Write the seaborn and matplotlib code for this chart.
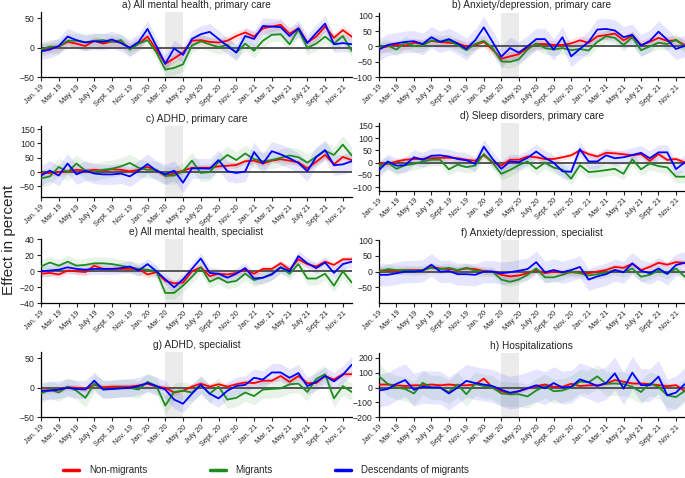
import numpy as np
import pandas as pd
import matplotlib
matplotlib.use("Agg")
import matplotlib.pyplot as plt
import seaborn as sns
from matplotlib.lines import Line2D

# ---------------- data ----------------
month_idx = list(range(36))  # Jan 2019 .. Dec 2021
tick_labels = ["Jan. 19", "Mar. 19", "May 19", "July 19", "Sept. 19", "Nov. 19",
               "Jan. 20", "Mar. 20", "May 20", "July 20", "Sept. 20", "Nov. 20",
               "Jan. 21", "Mar. 21", "May 21", "July 21", "Sept. 21", "Nov. 21"]
groups = ["Non-migrants", "Migrants", "Descendants of migrants"]

a_non = [-3, 0, 2, 10, 7, 3, 12, 7, 11, 9, 0, 7, 19, -3, -27, -18, -8, 12, 13, 10, 9, 12, 20, 26, 19, 33, 36, 39, 24, 33, 9, 19, 36, 17, 30, 19]
a_mig = [-3, 2, 2, 12, 12, 9, 12, 13, 10, 13, -3, 7, 13, -8, -37, -34, -28, 4, 11, 6, 1, 5, -8, 7, -5, 12, 22, 23, 6, 31, 0, 7, 19, 7, 20, -5]
a_desc = [-6, -3, 3, 19, 13, 9, 11, 10, 14, 8, 0, 10, 32, 3, -27, -1, -12, 15, 23, 27, 15, 3, -8, 20, 15, 37, 36, 35, 20, 33, 8, 25, 41, 6, 8, 6]

b_non = [-5, 0, 5, 3, 12, 8, 18, 14, 12, 10, 0, 5, 15, -10, -40, -32, -25, -5, 8, 8, 5, 5, 10, 20, 12, 33, 37, 42, 20, 35, 5, 15, 28, 18, 20, 5]
b_mig = [-3, 3, -10, 13, 2, 3, 20, 16, 18, 5, -12, 8, 18, -5, -48, -50, -42, -10, 10, -5, -10, -5, -12, -8, -13, 15, 33, 28, 5, 30, -12, 0, 12, 8, 22, 0]
b_desc = [-10, 5, 10, 15, 17, 8, 30, 15, 24, 10, -8, 20, 62, 15, -33, -5, -20, 0, 24, 24, -10, 30, -32, -8, 15, 55, 57, 52, 30, 38, 3, 18, 48, 22, -8, 2]

c_non = [-3, -3, 0, 3, 8, 5, 8, 5, 10, 8, 3, 8, 18, 5, -13, -5, 5, 15, 15, 15, 20, 22, 25, 38, 40, 30, 40, 45, 40, 34, 13, 36, 60, 27, 53, 42]
c_mig = [-22, -15, 18, 0, 30, 5, 0, 8, 12, 20, 32, 15, 8, 8, -13, -12, 3, 40, -3, 0, 35, 60, 42, 65, 45, 38, 42, 50, 58, 52, 33, 53, 74, 60, 96, 58]
c_desc = [-12, 5, -12, 30, -8, 5, -5, -8, -8, -5, -15, 5, 28, 5, -8, 5, -37, 13, 13, 12, 42, 3, -3, 2, 70, 30, 73, 62, 48, 32, 3, 53, 77, 24, 27, 38]

d_non = [-5, -5, 5, 12, 15, 15, 18, 20, 20, 18, 12, 8, 30, 2, -12, 12, 12, 25, 22, 15, 15, 22, 30, 50, 35, 25, 40, 38, 34, 30, 35, 7, 35, 11, 15, 1]
d_mig = [-15, 0, -25, -10, -5, 5, 12, 12, -27, -8, -18, -12, 35, 0, -45, -30, -10, 5, -25, 0, -20, -28, -65, -10, -38, -35, -30, -25, -45, 14, -27, -3, -14, -19, -57, -57]
d_desc = [-30, 5, -12, -10, 22, 12, 28, 30, 25, 15, 10, -5, 65, 15, -25, 5, 2, 20, 45, 20, 0, -35, -37, 55, 5, 5, 30, 18, 22, 31, 40, 18, 42, 42, -26, 1]

e_non = [-3, -2, -4, 1, 0, -1, 7, 3, 3, 3, 3, 3, -4, -1, -12, -15, -14, 0, 5, -6, -3, -4, -2, 2, -3, 3, 3, 10, 2, 15, 9, 6, 12, 8, 15, 15]
e_mig = [6, 11, 7, 12, 7, 8, 10, 10, 9, 7, 5, 3, 2, 0, -27, -27, -18, -7, 5, -13, -8, -14, -12, -3, -11, -8, -3, 5, -3, 9, -9, -9, -3, -18, 0, -14]
e_desc = [0, 1, 2, 5, 3, 2, 3, 3, 3, 4, 6, 1, 9, 0, -10, -20, -10, 3, 16, -2, -3, -8, -3, 4, -9, -8, -4, 5, 0, 19, 10, 4, 11, -2, 9, 12]

f_non = [3, 5, 2, 5, 5, 5, 15, 10, 8, 5, 10, 8, 2, 0, -10, -15, -12, -5, 5, -5, 0, -3, -2, -3, -5, 0, 5, 15, 12, 25, 5, 15, 28, 22, 30, 28]
f_mig = [0, 8, 5, 5, 3, 5, 12, 8, 12, 5, 12, 3, 0, 0, -25, -32, -25, -10, 10, -18, -18, -10, 0, -5, -12, -8, -3, 5, -2, 10, -16, -10, 3, -7, 10, -16]
f_desc = [-10, -10, -5, 0, 0, 3, 22, 0, 2, -8, -8, -10, 0, 0, -5, -2, 3, 8, 30, -2, 5, -2, 5, 15, -25, -15, -8, 5, -2, 26, 3, -5, 10, -7, 21, 28]

g_non = [-5, -4, -3, 1, 0, -2, 5, 1, 2, 2, 2, 4, 7, 2, 0, -8, -5, 2, 7, 2, 6, 2, 6, 9, 8, 12, 12, 20, 10, 20, 8, 8, 20, 14, 23, 23]
g_mig = [-10, -3, -8, 2, -5, -17, 7, -2, -2, 0, 0, -3, 10, 3, -30, -7, -5, -8, 5, -10, 2, -20, -17, -8, -14, -3, -2, -1, 6, 7, -7, 15, 23, -18, 3, -7]
g_desc = [-5, -5, -3, 0, -2, -3, 12, -3, -2, -1, 0, 3, 8, 3, -3, -20, -27, -10, 5, -10, -18, -5, 3, 5, 17, 14, 26, 26, 17, 25, 3, 10, 20, 11, 22, 39]

h_non = [20, 20, 15, 10, 15, 15, 20, 15, 20, 15, 15, 20, 60, 0, -25, -40, -25, -5, 10, 20, 5, 5, 25, 10, 15, 15, 25, 50, 39, 27, 27, 23, 16, 9, 16, -23]
h_mig = [75, 25, 0, -10, -40, 32, 0, 0, -30, 20, -45, 25, 10, 0, -40, -45, -45, -60, -20, 10, -25, -20, 0, 40, 35, 75, 25, 27, 23, 5, -30, 27, 5, -52, -64, -23]
h_desc = [-20, -10, 25, 50, -15, 5, 0, 0, -40, 0, 45, 30, 20, 10, -15, -35, -25, -5, 15, -5, 30, 0, 5, 55, 35, 10, 30, 95, -7, 100, 16, 16, 73, -52, -34, 23]

# approximate half-widths of the confidence bands (non, mig, desc)
ci_a = [8, 12, 14]
ci_b = [15, 20, 35]
ci_c = [10, 30, 35]
ci_d = [12, 25, 30]
ci_e = [4, 8, 7]
ci_f = [10, 15, 35]
ci_g = [5, 15, 15]
ci_h = [15, 80, 110]

titles = ["a) All mental health, primary care", "b) Anxiety/depression, primary care",
          "c) ADHD, primary care", "d) Sleep disorders, primary care",
          "e) All mental health, specialist", "f) Anxiety/depression, specialist",
          "g) ADHD, specialist", "h) Hospitalizations"]

# ---------------- style ----------------
sns.set_theme(style="ticks")
plt.rcParams["font.family"] = ["Liberation Sans", "DejaVu Sans"]
palette = {"Non-migrants": "#ff0000", "Migrants": "#1e8c1e", "Descendants of migrants": "#0000ff"}

W, H = 685, 478
fig = plt.figure(figsize=(W / 100, H / 100), dpi=100)

# layout (pixel boxes: x0, x1, ytop, ybottom), y limits, y ticks
L = (41, 351.7)
R = (379, 684.7)
spec = [
    (a_non, a_mig, a_desc, ci_a, L, (12.4, 77.3), (-50, 60), [-50, 0, 50]),
    (b_non, b_mig, b_desc, ci_b, R, (12.6, 77.3), (-100, 110), [-100, -50, 0, 50, 100]),
    (c_non, c_mig, c_desc, ci_c, L, (126.0, 197.3), (-88, 161), [-50, 0, 50, 100, 150]),
    (d_non, d_mig, d_desc, ci_d, R, (123.3, 191.0), (-115, 160), [-100, -50, 0, 50, 100, 150]),
    (e_non, e_mig, e_desc, ci_e, L, (239.3, 303.3), (-40, 40), [-40, -20, 0, 20, 40]),
    (f_non, f_mig, f_desc, ci_f, R, (240.0, 303.3), (-100, 100), [-50, 0, 50, 100]),
    (g_non, g_mig, g_desc, ci_g, L, (352.4, 417.3), (-50, 60), [-50, 0, 50]),
    (h_non, h_mig, h_desc, ci_h, R, (353.3, 417.3), (-200, 230), [-200, -100, 0, 100, 200]),
]

x = np.array(month_idx)
for title, (non, mig, desc, ci, (x0, x1), (yt, yb), ylim, yticks) in zip(titles, spec):
    ax = fig.add_axes([x0 / W, 1 - yb / H, (x1 - x0) / W, (yb - yt) / H])
    ax.set_facecolor("none")
    ax.axvspan(14, 16, color="#ebebeb", lw=0, zorder=0)
    series = [non, mig, desc]
    for g, vals, w in zip(groups, series, ci):
        v = np.array(vals, dtype=float)
        ax.fill_between(x, v - w, v + w, color=palette[g], alpha=0.1, lw=0, zorder=1)
    ax.axhline(0, color="#555555", lw=1.4, zorder=2)
    df = pd.DataFrame({
        "month": np.tile(x, 3),
        "value": np.concatenate([np.array(s, dtype=float) for s in series]),
        "group": np.repeat(groups, len(x)),
    })
    sns.lineplot(data=df, x="month", y="value", hue="group", hue_order=groups,
                 palette=palette, legend=False, ax=ax, lw=1.3, zorder=3)
    ax.set_xlim(0, 35)
    ax.set_ylim(*ylim)
    ax.set_xticks(list(range(0, 36, 2)))
    ax.set_xticklabels(tick_labels, rotation=45, ha="right", rotation_mode="anchor", fontsize=5.3)
    ax.set_yticks(yticks)
    ax.tick_params(axis="y", labelsize=6.3, length=3, width=0.8, pad=1.5)
    ax.tick_params(axis="x", length=3, width=0.8, pad=1.5)
    ax.set_xlabel("")
    ax.set_ylabel("")
    for s in ("left", "bottom"):
        ax.spines[s].set_color("black")
        ax.spines[s].set_linewidth(0.9)
    sns.despine(ax=ax)
    ax.set_title(title, fontsize=7.3, pad=3)

fig.text(9 / W, 1 - 240 / H, "Effect in percent", rotation=90, va="center", ha="center", fontsize=11)

handles = [Line2D([0], [0], color=palette[g], lw=2.5) for g in groups]
fig.legend(handles, groups, loc="center", bbox_to_anchor=(266 / W, 1 - 470 / H), ncol=3,
           frameon=False, fontsize=7, handlelength=1.65, handletextpad=1.0, columnspacing=6.4)

fig.savefig("out.png", dpi=100)
